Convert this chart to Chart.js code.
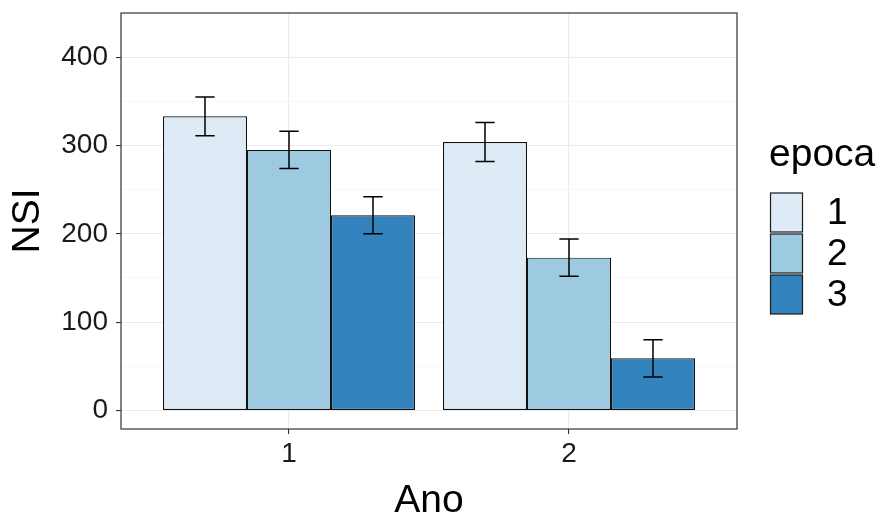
<!DOCTYPE html>
<html>
<head>
<meta charset="utf-8">
<script src="https://cdn.jsdelivr.net/npm/chart.js@4.4.1/dist/chart.umd.min.js"></script>
<style>
  html, body { margin: 0; padding: 0; background: #ffffff; }
  #wrap { width: 889px; height: 517px; position: relative; }
</style>
</head>
<body>
<div id="wrap"><canvas id="c" width="889" height="517"></canvas></div>
<script>
// Ano (x categories) and epoca (series)
const categories = ['1', '2'];
const seriesNames = ['1', '2', '3'];

// mean NSI per Ano, one array per epoca
const epoca1 = [333, 304];
const epoca2 = [295, 173];
const epoca3 = [221, 59];

// error bar half-lengths
const err1 = [22, 22];
const err2 = [21, 21];
const err3 = [21, 21];

const yTickLabels = [0, 100, 200, 300, 400];
const yMinorTicks = [50, 150, 250, 350];

const fills = ['#DEEBF7', '#9ECAE1', '#3182BD'];
const values = [epoca1, epoca2, epoca3];
const errors = [err1, err2, err3];

const FONT = "'Liberation Sans', Arial, sans-serif";

const datasets = seriesNames.map((name, i) => ({
  label: name,
  data: categories.map((c, j) => ({ x: j + 1, y: values[i][j] })),
  err: errors[i],
  backgroundColor: fills[i],
  borderColor: '#111111',
  borderWidth: 1.2,
  borderSkipped: false,
  categoryPercentage: 0.9,
  barPercentage: 1.0
}));

// error bars drawn from each bar element and the y scale
const errorBars = {
  id: 'errorBars',
  afterDatasetsDraw(chart) {
    const ctx = chart.ctx;
    const y = chart.scales.y;
    ctx.save();
    ctx.strokeStyle = '#000000';
    ctx.lineWidth = 1.5;
    chart.data.datasets.forEach((ds, i) => {
      const meta = chart.getDatasetMeta(i);
      meta.data.forEach((el, j) => {
        const v = ds.data[j].y, e = ds.err[j];
        const top = y.getPixelForValue(v + e);
        const bot = y.getPixelForValue(v - e);
        const half = el.width * 0.115;
        ctx.beginPath();
        ctx.moveTo(el.x, top); ctx.lineTo(el.x, bot);
        ctx.moveTo(el.x - half, top); ctx.lineTo(el.x + half, top);
        ctx.moveTo(el.x - half, bot); ctx.lineTo(el.x + half, bot);
        ctx.stroke();
      });
    });
    ctx.restore();
  }
};

// panel frame plus the epoca legend at the right
const frameAndLegend = {
  id: 'frameAndLegend',
  afterDraw(chart) {
    const ctx = chart.ctx;
    const a = chart.chartArea;
    ctx.save();
    ctx.strokeStyle = '#333333';
    ctx.lineWidth = 1.2;
    ctx.strokeRect(a.left, a.top, a.right - a.left, a.bottom - a.top);

    const lx = a.right + 33;
    const keyW = 33, keyH = 41;
    const midY = (a.top + a.bottom) / 2;
    const keysTop = midY - 29;
    ctx.fillStyle = '#000000';
    ctx.font = '39px ' + FONT;
    ctx.textAlign = 'left';
    ctx.textBaseline = 'alphabetic';
    ctx.fillText('epoca', lx - 1, keysTop - 26);

    seriesNames.forEach((name, i) => {
      const ky = keysTop + i * keyH;
      ctx.fillStyle = fills[i];
      ctx.fillRect(lx + 0.5, ky + 1, keyW - 1, keyH - 2);
      ctx.strokeStyle = '#1a1a1a';
      ctx.lineWidth = 1.2;
      ctx.strokeRect(lx + 0.5, ky + 1, keyW - 1, keyH - 2);
      ctx.fillStyle = '#000000';
      ctx.font = '37px ' + FONT;
      ctx.textBaseline = 'middle';
      ctx.fillText(name, lx + keyW + 24, ky + keyH / 2 + 1);
    });
    ctx.restore();
  }
};

new Chart(document.getElementById('c'), {
  type: 'bar',
  data: { datasets },
  plugins: [errorBars, frameAndLegend],
  options: {
    responsive: false,
    animation: false,
    layout: { padding: { left: 0, top: 13, right: 152, bottom: 0 } },
    plugins: { legend: { display: false }, tooltip: { enabled: false } },
    scales: {
      x: {
        type: 'linear',
        min: 0.4,
        max: 2.6,
        offset: false,
        afterBuildTicks(scale) {
          scale.ticks = categories.map((c, j) => ({ value: j + 1 }));
        },
        afterFit(scale) {
          scale.height = 88;
          scale.paddingLeft = 0;
          scale.paddingRight = 0;
        },
        ticks: {
          autoSkip: false,
          maxRotation: 0,
          padding: 3,
          color: '#1a1a1a',
          font: { family: FONT, size: 28 },
          callback: (v) => categories[Math.round(v) - 1]
        },
        grid: {
          offset: false,
          color: '#EBEBEB',
          lineWidth: 1.1,
          tickColor: '#333333',
          tickLength: 5
        },
        border: { display: false },
        title: {
          display: true,
          text: 'Ano',
          color: '#000000',
          font: { family: FONT, size: 39, lineHeight: 1.0 },
          padding: { top: 0, bottom: -4 }
        }
      },
      y: {
        min: -21,
        max: 450,
        afterBuildTicks(scale) {
          scale.ticks = yTickLabels.concat(yMinorTicks)
            .sort((p, q) => p - q)
            .map(v => ({ value: v }));
        },
        afterFit(scale) {
          scale.width = 121;
          scale.paddingTop = 0;
          scale.paddingBottom = 0;
        },
        ticks: {
          autoSkip: false,
          padding: 8,
          color: '#1a1a1a',
          font: { family: FONT, size: 28 },
          callback: (v) => (yTickLabels.includes(v) ? String(v) : '')
        },
        grid: {
          color: (c) => (c.tick && yTickLabels.includes(c.tick.value) ? '#EBEBEB' : '#F3F3F3'),
          lineWidth: (c) => (c.tick && yTickLabels.includes(c.tick.value) ? 1.1 : 0.7),
          tickColor: (c) => (c.tick && yTickLabels.includes(c.tick.value) ? '#333333' : 'rgba(0,0,0,0)'),
          tickLength: 5
        },
        border: { display: false },
        title: {
          display: true,
          text: 'NSI',
          color: '#000000',
          font: { family: FONT, size: 39, lineHeight: 1.2 },
          padding: { top: 5, bottom: 0 }
        }
      }
    }
  }
});
</script>
</body>
</html>
